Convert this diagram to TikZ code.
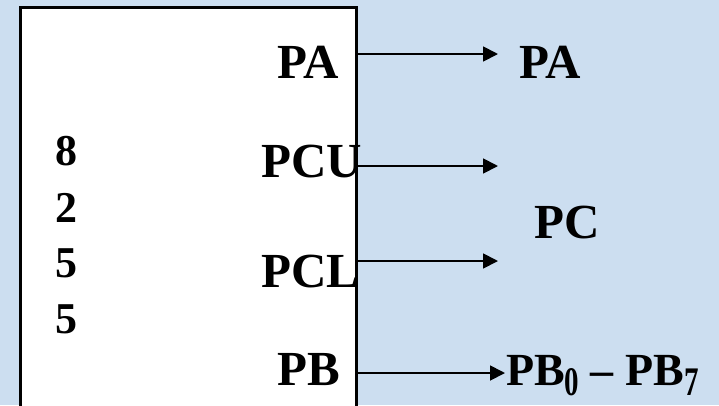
\documentclass[tikz,border=0pt]{standalone}
\usepackage{fontspec}
\setmainfont{Liberation Serif}
\usetikzlibrary{arrows.meta}
\definecolor{bgblue}{RGB}{204,222,240}
\tikzset{
  lbl/.style={anchor=base west, inner sep=0pt, font=\fontsize{49}{49}\selectfont\bfseries},
  lblb/.style={anchor=base west, inner sep=0pt, font=\fontsize{46}{46}\selectfont\bfseries},
  dig/.style={anchor=base west, inner sep=0pt, font=\fontsize{44}{44}\selectfont\bfseries},
  arr/.style={line width=1.8pt, -{Triangle[length=15pt,width=15pt]}},
  chipbox/.style={draw, fill=white, line width=2.8pt, inner sep=0pt, anchor=north west}
}
\newcommand{\mysub}[1]{\raisebox{-10pt}{\scalebox{1}[1.4]{\fontsize{29}{29}\selectfont\bfseries #1}}}
\begin{document}
\begin{tikzpicture}[x=1pt,y=-1pt]
\fill[bgblue] (0,0) rectangle (719,405);
\useasboundingbox (0,0) rectangle (719,405);
\node[chipbox, minimum width=336pt, minimum height=404pt] (chip) at (19,6) {};
\node[lbl] (pai) at (277,78) {PA};
\node[lbl] (pcu) at (261,177) {PCU};
\node[lbl] (pcl) at (261,287) {PCL};
\node[lbl] (pbi) at (277,385) {PB};
\node[dig] (d1) at (55,165) {8};
\node[dig] (d2) at (55,222) {2};
\node[dig] (d3) at (55,277) {5};
\node[dig] (d4) at (55,333) {5};
\node[lbl] (pao) at (519,78) {PA};
\node[lbl] (pco) at (534,238) {PC};
\node[lblb] (pbo) at (506,385) {PB\mysub{0} – PB\mysub{7}};
\coordinate (s1) at (355,54);  \coordinate (e1) at (498,54);
\coordinate (s2) at (355,166); \coordinate (e2) at (498,166);
\coordinate (s3) at (355,261); \coordinate (e3) at (498,261);
\coordinate (s4) at (355,373); \coordinate (e4) at (505,373);
\draw[arr] (s1) -- (e1);
\draw[arr] (s2) -- (e2);
\draw[arr] (s3) -- (e3);
\draw[arr] (s4) -- (e4);
\end{tikzpicture}
\end{document}
